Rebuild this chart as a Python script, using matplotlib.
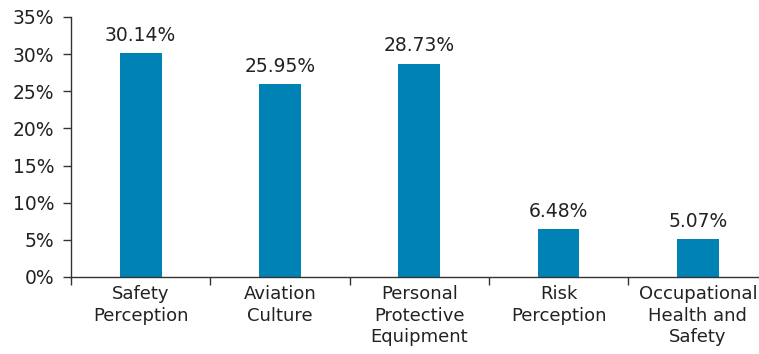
import numpy as np
import matplotlib.pyplot as plt
from matplotlib.ticker import PercentFormatter

categories = ["Safety\nPerception", "Aviation\nCulture", "Personal\nProtective\nEquipment",
              "Risk\nPerception", "Occupational\nHealth and\nSafety"]
values = [30.14, 25.95, 28.73, 6.48, 5.07]
labels = ["30.14%", "25.95%", "28.73%", "6.48%", "5.07%"]

BAR_COLOR = "#0082b4"
AXIS_COLOR = "#333333"
TEXT_COLOR = "#222222"
FS = 13.5

plt.rcParams["font.family"] = ["DejaVu Sans"]

fig = plt.figure(figsize=(7.59, 3.54), dpi=100)
ax = fig.add_axes([71 / 759, 77 / 354, 696.5 / 759, 260 / 354])

x = np.arange(len(categories))
bars = ax.bar(x, values, width=0.30, color=BAR_COLOR)

for b, lab in zip(bars, labels):
    ax.annotate(lab, (b.get_x() + b.get_width() / 2, b.get_height()),
                xytext=(0, 6), textcoords="offset points",
                ha="center", va="bottom", fontsize=FS, color=TEXT_COLOR)

ax.set_xlim(-0.5, len(categories) - 0.5)
ax.set_ylim(0, 35)
ax.set_yticks(np.arange(0, 36, 5))
ax.yaxis.set_major_formatter(PercentFormatter(decimals=0))

# category ticks sit on the boundaries between groups
ax.set_xticks(np.arange(len(categories) + 1) - 0.5)
ax.set_xticklabels([])
ax.set_xticks(x, minor=True)
ax.set_xticklabels(categories, minor=True, fontsize=13, color=TEXT_COLOR, linespacing=1.25)
ax.tick_params(axis="x", which="minor", length=0, pad=6)
ax.tick_params(axis="x", which="major", length=6, width=1, color=AXIS_COLOR, direction="out")
ax.tick_params(axis="y", length=6, width=1, color=AXIS_COLOR, labelsize=FS,
               labelcolor=TEXT_COLOR, pad=6)

for side in ("top", "right"):
    ax.spines[side].set_visible(False)
for side in ("left", "bottom"):
    ax.spines[side].set_color(AXIS_COLOR)
    ax.spines[side].set_linewidth(1)

fig.savefig("out.png", dpi=100)
